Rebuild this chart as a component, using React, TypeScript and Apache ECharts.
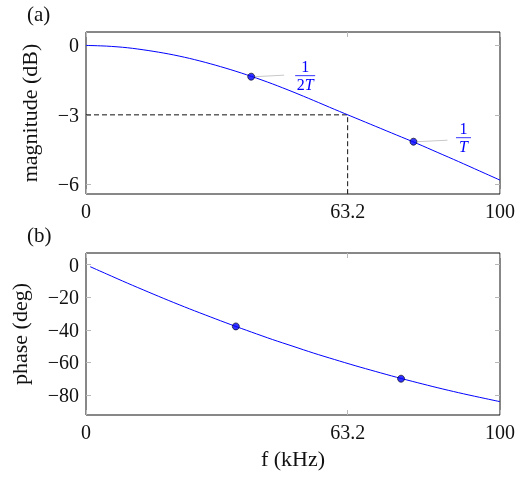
import React, { useEffect, useRef } from "react";
import * as echarts from "echarts";

// Frequency grid (kHz) shared by both responses
const freq = [0, 5, 10, 15, 20, 25, 30, 35, 40, 45, 50, 55, 60, 65, 70, 75, 80, 85, 90, 95, 100];
// Magnitude response (dB)
const magnitude = [0, -0.03, -0.1, -0.22, -0.37, -0.56, -0.79, -1.05, -1.34, -1.66, -2.01, -2.38, -2.76, -3.13, -3.5, -3.87, -4.24, -4.63, -5.02, -5.42, -5.82];
// Phase response (deg), sampled from 1 kHz
const phaseFreq = [1, 5, 10, 15, 20, 25, 30, 35, 40, 45, 50, 55, 60, 65, 70, 75, 80, 85, 90, 95, 100];
const phase = [-1.2, -5.7, -11.3, -16.7, -22.0, -27.1, -32.0, -36.8, -41.4, -45.9, -50.1, -54.3, -58.2, -62.0, -65.6, -69.1, -72.4, -75.6, -78.6, -81.4, -84.1];

// Marked points
const magMarkFreq = [39.9, 79.1];
const magMarkVal = [-1.35, -4.16];
const phaseMarkFreq = [36.2, 76.1];
const phaseMarkVal = [-37.9, -70.0];
const markNumerators = ["1", "1"];
const markDenominators = [["2", "T"], ["", "T"]];

// -3 dB cut-off
const cutoffFreq = 63.2;
const cutoffLevel = -3;

// Tick labels
const freqTicks = [0, 63.2, 100];
const magTicks = [0, -3, -6];
const phaseTicks = [0, -20, -40, -60, -80];

const FONT = "Liberation Serif";
const BLUE = "#0000ff";
const TICK = "#b8b8b8";
const INK = "#111";
const NAME_SIZE = 22;

const magMin = -6.42;
const magMax = 0.58;
const phaseMin = -92.3;
const phaseMax = 7.2;

const fmt = (v: number) => (v < 0 ? "\u2212" + Math.abs(v) : String(v));

function xAxes(gridIndex: number, name: string) {
  const base = {
    type: "value" as const,
    gridIndex,
    min: 0,
    max: 100,
    axisLine: { show: false, onZero: false },
    splitLine: { show: false },
    axisTick: { show: true, inside: true, length: 5, customValues: freqTicks, lineStyle: { color: TICK, width: 1 } },
  };
  return [
    {
      ...base,
      position: "bottom",
      name,
      nameLocation: "middle",
      nameGap: 32,
      nameTextStyle: { fontFamily: FONT, fontSize: NAME_SIZE, color: INK },
      axisLabel: { show: true, customValues: freqTicks, formatter: fmt, fontFamily: FONT, fontSize: 20, color: INK, margin: 7 },
    },
    { ...base, position: "top", axisLabel: { show: false } },
  ];
}

function yAxes(gridIndex: number, name: string, min: number, max: number, ticks: number[], gap: number) {
  const base = {
    type: "value" as const,
    gridIndex,
    min,
    max,
    axisLine: { show: false, onZero: false },
    splitLine: { show: false },
    axisTick: { show: true, inside: true, length: 5, customValues: ticks, lineStyle: { color: TICK, width: 1 } },
  };
  return [
    {
      ...base,
      position: "left",
      name,
      nameLocation: "middle",
      nameRotate: 90,
      nameGap: gap,
      nameTextStyle: { fontFamily: FONT, fontSize: NAME_SIZE, color: INK },
      axisLabel: { show: true, customValues: ticks, formatter: fmt, fontFamily: FONT, fontSize: 20, color: INK, margin: 7 },
    },
    { ...base, position: "right", axisLabel: { show: false } },
  ];
}

export default function App() {
  const ref = useRef<HTMLDivElement>(null);

  useEffect(() => {
    if (!ref.current) return;
    const chart = echarts.init(ref.current, null, { renderer: "svg" });

    const gridBox = { left: 86, right: 26, height: 162, show: true, borderColor: INK, borderWidth: 1, backgroundColor: "transparent" };

    chart.setOption({
      animation: false,
      textStyle: { fontFamily: FONT },
      grid: [
        { ...gridBox, top: 32 },
        { ...gridBox, top: 253 },
      ],
      xAxis: [...xAxes(0, ""), ...xAxes(1, "f (kHz)")],
      yAxis: [
        ...yAxes(0, "magnitude (dB)", magMin, magMax, magTicks, 46),
        ...yAxes(1, "phase (deg)", phaseMin, phaseMax, phaseTicks, 56),
      ],
      series: [
        {
          type: "line",
          xAxisIndex: 0,
          yAxisIndex: 0,
          data: [
            [0, cutoffLevel],
            [cutoffFreq, cutoffLevel],
            [cutoffFreq, magMin],
          ],
          symbol: "none",
          lineStyle: { color: INK, width: 1, type: [5, 3] },
          silent: true,
          z: 2,
        },
        {
          type: "line",
          xAxisIndex: 0,
          yAxisIndex: 0,
          data: freq.map((f, i) => [f, magnitude[i]]),
          symbol: "none",
          smooth: 0.3,
          lineStyle: { color: BLUE, width: 1 },
          z: 3,
        },
        {
          type: "scatter",
          xAxisIndex: 0,
          yAxisIndex: 0,
          data: magMarkFreq.map((f, i) => [f, magMarkVal[i]]),
          symbolSize: 7,
          itemStyle: { color: BLUE, borderColor: "#000", borderWidth: 0.8 },
          z: 5,
        },
        {
          type: "line",
          xAxisIndex: 2,
          yAxisIndex: 2,
          data: phaseFreq.map((f, i) => [f, phase[i]]),
          symbol: "none",
          smooth: 0.3,
          lineStyle: { color: BLUE, width: 1 },
          z: 3,
        },
        {
          type: "scatter",
          xAxisIndex: 2,
          yAxisIndex: 2,
          data: phaseMarkFreq.map((f, i) => [f, phaseMarkVal[i]]),
          symbolSize: 7,
          itemStyle: { color: BLUE, borderColor: "#000", borderWidth: 0.8 },
          z: 5,
        },
      ],
    });

    // Pinned fraction labels next to the magnitude markers
    const pinOffsets = [
      { end: 33, cx: 54, bar: -1, w: 20 },
      { end: 34, cx: 50, bar: -4, w: 15 },
    ];
    const graphics: any[] = [
      { type: "text", left: 27, top: 3, style: { text: "(a)", font: `21px ${FONT}`, fill: INK } },
      { type: "text", left: 27, top: 224, style: { text: "(b)", font: `21px ${FONT}`, fill: INK } },
    ];
    magMarkFreq.forEach((f, i) => {
      const p = chart.convertToPixel({ xAxisIndex: 0, yAxisIndex: 0 }, [f, magMarkVal[i]]) as number[];
      const o = pinOffsets[i];
      const cx = p[0] + o.cx;
      const by = p[1] + o.bar;
      graphics.push(
        {
          type: "line",
          shape: { x1: p[0] + 4, y1: p[1], x2: p[0] + o.end, y2: p[1] - 1.5 },
          style: { stroke: "#c8c8c8", lineWidth: 1 },
          z: 4,
        },
        {
          type: "line",
          shape: { x1: cx - o.w / 2, y1: by, x2: cx + o.w / 2, y2: by },
          style: { stroke: BLUE, lineWidth: 0.8 },
        },
        {
          type: "text",
          x: cx,
          y: by - 1,
          style: { text: markNumerators[i], font: `16px ${FONT}`, fill: BLUE, align: "center", verticalAlign: "bottom" },
        },
        {
          type: "text",
          x: cx,
          y: by + 1,
          style: {
            text: (markDenominators[i][0] ? `{r|${markDenominators[i][0]}}` : "") + `{i|${markDenominators[i][1]}}`,
            align: "center",
            verticalAlign: "top",
            rich: {
              r: { font: `16px ${FONT}`, fill: BLUE, color: BLUE },
              i: { font: `italic 16px ${FONT}`, fill: BLUE, color: BLUE },
            },
          },
        }
      );
    });
    chart.setOption({ graphic: graphics });

    return () => chart.dispose();
  }, []);

  return <div ref={ref} style={{ position: "fixed", left: 0, top: 0, width: 526, height: 479 }} />;
}
